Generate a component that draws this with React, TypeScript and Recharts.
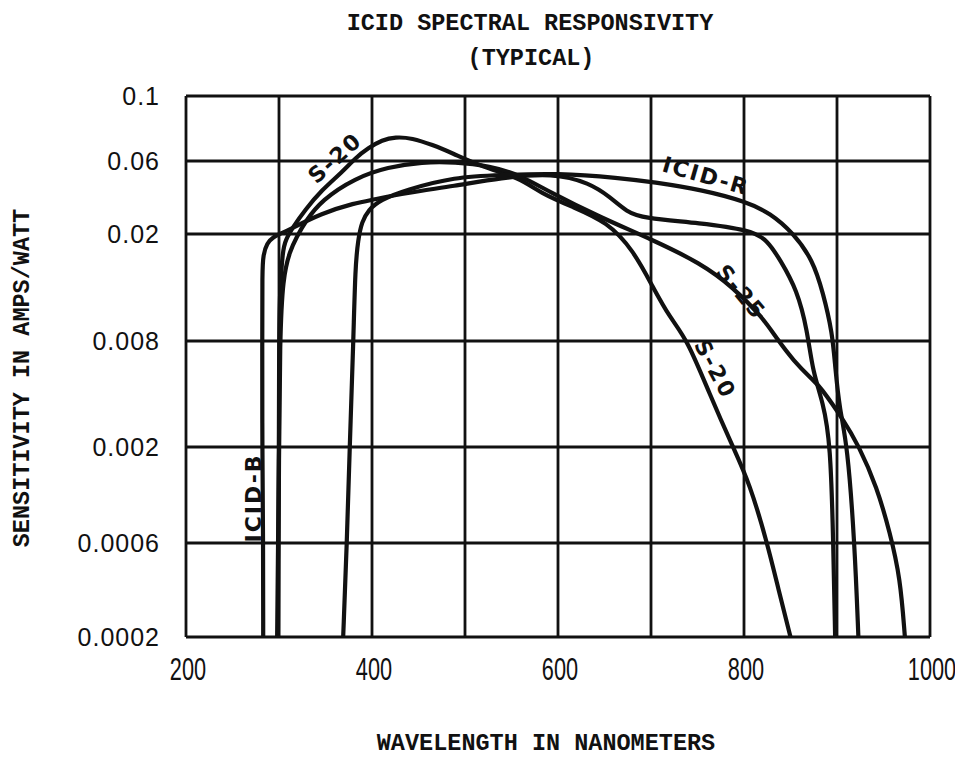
import React from "react";
import { CartesianGrid, Line, LineChart, XAxis, YAxis } from "recharts";

const wavelengthTicks = [200, 300, 400, 500, 600, 700, 800, 900, 1000];
const wavelengthLabels = [200, 400, 600, 800, 1000];

const sensitivityTicks = [0.0002, 0.0006, 0.002, 0.008, 0.02, 0.06, 0.1];
const sensitivityLabels = ["0.0002", "0.0006", "0.002", "0.008", "0.02", "0.06", "0.1"];
// the ruled lines of the original paper are not a true log grid,
// so each labelled line gets its own height (0 = bottom line)
const paperRuling = [0, 94, 190, 296, 403, 476, 541];

const s20Nm = [298, 299, 300, 300, 301, 304, 307, 315, 328, 346, 368, 382, 396, 411, 425, 443, 465, 486, 519, 559, 581, 616, 653, 681, 702, 720, 739, 763, 788, 806, 825, 837, 850];
const s20Amps = [0.0002, 0.0006, 0.002, 0.008, 0.0124, 0.0174, 0.019, 0.0222, 0.0287, 0.0388, 0.0508, 0.0614, 0.0665, 0.0708, 0.0725, 0.0719, 0.0681, 0.0639, 0.0548, 0.0465, 0.0371, 0.03, 0.024, 0.0174, 0.0127, 0.0098, 0.0081, 0.004, 0.002, 0.00127, 0.0006, 0.00035, 0.0002];

const s25Nm = [299, 300, 301, 304, 312, 319, 328, 346, 382, 417, 454, 489, 527, 559, 591, 645, 702, 753, 788, 820, 836, 853, 874, 882, 907, 923, 943, 957, 968, 973];
const s25Amps = [0.0002, 0.002, 0.008, 0.0138, 0.0174, 0.0195, 0.024, 0.0334, 0.0465, 0.0548, 0.0591, 0.0591, 0.0556, 0.0486, 0.0376, 0.0258, 0.019, 0.0156, 0.0127, 0.0098, 0.0081, 0.0062, 0.0048, 0.0044, 0.00285, 0.00205, 0.00121, 0.00068, 0.0004, 0.0002];

const icidBNm = [283, 283, 282, 282, 282, 283, 287, 294, 303, 310, 346, 382, 400, 436, 489, 538, 595, 634, 656, 674, 691, 753, 807, 825, 839, 857, 868, 874, 885, 893, 896, 898];
const icidBAmps = [0.0002, 0.0006, 0.002, 0.008, 0.0147, 0.0167, 0.0185, 0.0195, 0.0203, 0.0212, 0.0274, 0.0319, 0.0334, 0.0371, 0.0412, 0.0465, 0.0501, 0.0431, 0.0349, 0.0279, 0.0254, 0.0236, 0.0212, 0.019, 0.016, 0.0124, 0.0088, 0.0053, 0.0036, 0.0021, 0.0006, 0.0002];

const icidRNm = [369, 373, 376, 380, 382, 385, 389, 396, 409, 436, 489, 538, 599, 667, 702, 756, 803, 828, 853, 874, 885, 895, 898, 903, 911, 919, 923];
const icidRAmps = [0.0002, 0.0006, 0.002, 0.008, 0.0151, 0.019, 0.024, 0.0287, 0.0334, 0.0388, 0.0472, 0.0486, 0.0501, 0.0465, 0.0437, 0.0388, 0.0324, 0.0274, 0.0203, 0.016, 0.0121, 0.0086, 0.0057, 0.0032, 0.0021, 0.0006, 0.0002];

function toPaper(v: number): number {
  const lv = Math.log10(v);
  const n = sensitivityTicks.length;
  for (let i = 0; i < n - 1; i++) {
    const a = Math.log10(sensitivityTicks[i]);
    const b = Math.log10(sensitivityTicks[i + 1]);
    if (lv <= b || i === n - 2) {
      return paperRuling[i] + ((lv - a) / (b - a)) * (paperRuling[i + 1] - paperRuling[i]);
    }
  }
  return 0;
}

function build(nm: number[], amps: number[]) {
  return nm.map((w, i) => ({ nm: w, paper: toPaper(amps[i]) }));
}

const series = [
  { name: "S-20", data: build(s20Nm, s20Amps) },
  { name: "S-25", data: build(s25Nm, s25Amps) },
  { name: "ICID-B", data: build(icidBNm, icidBAmps) },
  { name: "ICID-R", data: build(icidRNm, icidRAmps) },
];

const ink = "#111";

function XTick(props: any) {
  const { x, y, payload } = props;
  const show = wavelengthLabels.includes(payload.value);
  return (
    <g transform={`translate(${x + 2},${y})`}>
      <text
        transform="scale(0.68,1)"
        textAnchor="middle"
        dy="0.71em"
        fontFamily="'Liberation Sans', sans-serif"
        fontSize={32}
        fill={ink}
      >
        {show ? payload.value : ""}
      </text>
    </g>
  );
}

function YTick(props: any) {
  const { x, y, payload } = props;
  const idx = paperRuling.indexOf(payload.value);
  return (
    <text
      x={x}
      y={y}
      textAnchor="end"
      dominantBaseline="central"
      fontFamily="'Liberation Sans', sans-serif"
      fontSize={25}
      letterSpacing={1}
      fill={ink}
    >
      {idx >= 0 ? sensitivityLabels[idx] : ""}
    </text>
  );
}

const typewriter = "'Liberation Mono', 'DejaVu Sans Mono', monospace";
const hand = "'DejaVu Sans', sans-serif";

export default function App() {
  return (
    <div style={{ position: "relative", width: 947, height: 742 }}>
      <div style={{ width: 947, height: 742, overflow: "hidden" }}>
        <LineChart
          width={947}
          height={742}
          margin={{ top: 88, right: 25, bottom: 53, left: 0 }}
        >
          <CartesianGrid stroke={ink} strokeWidth={2.8} />
          <XAxis
            type="number"
            dataKey="nm"
            domain={[200, 1000]}
            ticks={wavelengthTicks}
            tick={<XTick />}
            tickLine={false}
            axisLine={false}
            tickSize={0}
            tickMargin={20}
            height={60}
            allowDataOverflow
          />
          <YAxis
            type="number"
            dataKey="paper"
            domain={[0, 541]}
            ticks={paperRuling}
            tick={<YTick />}
            tickLine={false}
            axisLine={false}
            tickSize={0}
            tickMargin={26}
            width={178}
            allowDataOverflow
          />
          {series.map((s) => (
            <Line
              key={s.name}
              data={s.data}
              dataKey="paper"
              type="basis"
              stroke={ink}
              strokeWidth={4.2}
              dot={false}
              isAnimationActive={false}
            />
          ))}
        </LineChart>
      </div>
      <svg
        width={947}
        height={742}
        style={{ position: "absolute", left: 0, top: 0, pointerEvents: "none", overflow: "visible" }}
      >
        <g fontFamily={typewriter} fontWeight="bold" fill={ink} fontSize={23.5}>
          <text x={522} y={15} textAnchor="middle" dominantBaseline="central">
            ICID SPECTRAL RESPONSIVITY
          </text>
          <text x={523} y={50} textAnchor="middle" dominantBaseline="central">
            (TYPICAL)
          </text>
          <text x={538} y={735} textAnchor="middle" dominantBaseline="central">
            WAVELENGTH IN NANOMETERS
          </text>
          <text
            x={14}
            y={370}
            textAnchor="middle"
            dominantBaseline="central"
            transform="rotate(-90 14 370)"
          >
            SENSITIVITY IN AMPS/WATT
          </text>
        </g>
        <g fontFamily={hand} fontWeight="bold" fill={ink} fontSize={22} letterSpacing={2}>
          <text x={327} y={150} textAnchor="middle" dominantBaseline="central" transform="rotate(-42 327 150)">
            S-20
          </text>
          <text x={698} y={168} textAnchor="middle" dominantBaseline="central" transform="rotate(16 698 168)">
            ICID-R
          </text>
          <text x={733} y={284} textAnchor="middle" dominantBaseline="central" transform="rotate(50 733 284)">
            S-25
          </text>
          <text x={707} y={361} textAnchor="middle" dominantBaseline="central" transform="rotate(62 707 361)">
            S-20
          </text>
          <text x={245} y={490} textAnchor="middle" dominantBaseline="central" transform="rotate(-90 245 490)">
            ICID-B
          </text>
        </g>
      </svg>
    </div>
  );
}
